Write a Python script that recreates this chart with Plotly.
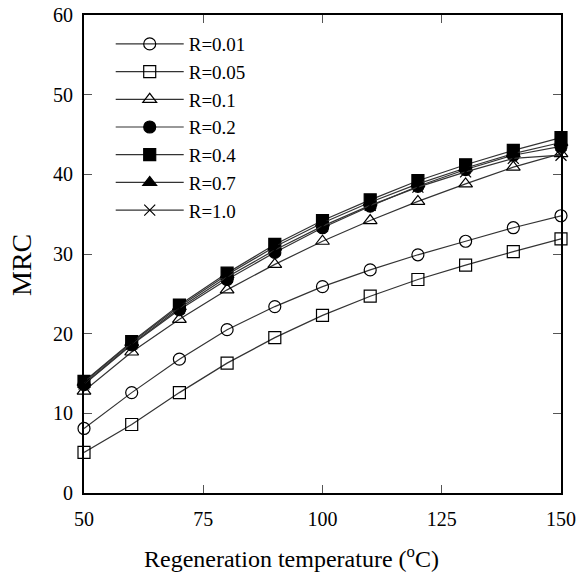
import plotly.graph_objects as go

temps = [50, 60, 70, 80, 90, 100, 110, 120, 130, 140, 150]

r_labels = ["R=0.01", "R=0.05", "R=0.1", "R=0.2", "R=0.4", "R=0.7", "R=1.0"]
mrc_001 = [8.1, 12.6, 16.8, 20.5, 23.4, 25.9, 28.0, 29.9, 31.6, 33.3, 34.8]
mrc_005 = [5.1, 8.6, 12.6, 16.3, 19.5, 22.3, 24.7, 26.8, 28.6, 30.3, 31.9]
mrc_01 = [12.8, 17.7, 21.8, 25.5, 28.7, 31.6, 34.2, 36.6, 38.8, 40.9, 42.6]
mrc_02 = [13.6, 18.6, 23.0, 26.8, 30.2, 33.3, 36.0, 38.5, 40.6, 42.4, 43.5]
mrc_04 = [14.0, 19.0, 23.6, 27.6, 31.2, 34.2, 36.8, 39.2, 41.2, 43.0, 44.6]
mrc_07 = [13.9, 18.9, 23.4, 27.4, 30.9, 33.9, 36.5, 38.8, 40.8, 42.6, 44.0]
mrc_10 = [13.7, 18.7, 23.2, 27.1, 30.5, 33.5, 36.1, 38.4, 40.3, 42.0, 42.4]

series = [mrc_001, mrc_005, mrc_01, mrc_02, mrc_04, mrc_07, mrc_10]
symbols = ["circle-open", "square-open", "triangle-up-open", "circle",
           "square", "triangle-up", "x-thin-open"]
sizes = [12, 12, 12, 12, 12, 12, 11]

fig = go.Figure()
for name, ys, sym, sz in zip(r_labels, series, symbols, sizes):
    fig.add_trace(go.Scatter(
        x=temps, y=ys, name=name, mode="lines+markers",
        line=dict(color="#333333", width=1.2),
        marker=dict(symbol=sym, size=sz, color="black",
                    line=dict(color="black", width=1.2)),
        cliponaxis=False,
    ))

axis_common = dict(
    showline=True, linecolor="black", linewidth=2, mirror="allticks",
    ticks="inside", ticklen=8, tickcolor="#555555", tickwidth=1,
    showgrid=False, zeroline=False, automargin=False,
    ticklabeloverflow="allow",
    tickfont=dict(family="Liberation Serif", size=20, color="black"),
)

fig.update_layout(
    width=583, height=575,
    margin=dict(l=84, r=22, t=15, b=82),
    paper_bgcolor="white", plot_bgcolor="white",
    font=dict(family="Liberation Serif", color="black"),
    xaxis=dict(range=[50, 150], tickvals=[50, 75, 100, 125, 150],
               ticklabelstandoff=7, **axis_common),
    yaxis=dict(range=[0, 60], dtick=10, ticklabelstandoff=5, **axis_common),
    legend=dict(x=0.056, y=0.979, xanchor="left", yanchor="top",
                bgcolor="rgba(0,0,0,0)", itemwidth=68,
                font=dict(size=19, family="Liberation Serif"),
                tracegroupgap=0),
    showlegend=True,
)

# axis titles placed as annotations to match the original positions
fig.add_annotation(
    text="Regeneration temperature (<sup>o</sup>C)",
    xref="paper", yref="paper", x=0.434, y=-0.134,
    xanchor="center", yanchor="middle", showarrow=False,
    font=dict(size=24, family="Liberation Serif", color="black"),
)
fig.add_annotation(
    text="MRC", textangle=-90,
    xref="paper", yref="paper", x=-0.13, y=0.477,
    xanchor="center", yanchor="middle", showarrow=False,
    font=dict(size=28, family="Liberation Serif", color="black"),
)

# drop the default page margin so the figure fills the window exactly
fig.write_html("out.html", config={"displayModeBar": False},
               post_script="document.body.style.margin='0';")
